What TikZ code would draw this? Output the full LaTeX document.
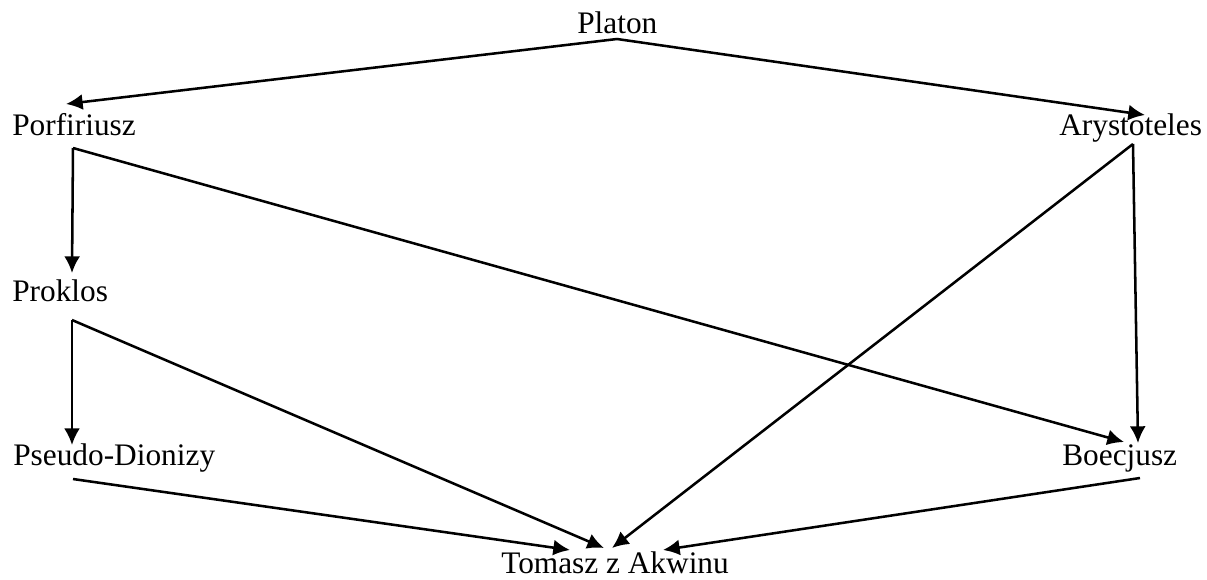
\documentclass[tikz,border=0pt]{standalone}
\usepackage{fontspec}
\setmainfont{Liberation Serif}
\usetikzlibrary{arrows.meta}
\begin{document}
\begin{tikzpicture}[x=0.75pt,y=-0.75pt,
  lbl/.style={anchor=base west,inner sep=0pt,font=\fontsize{23.5}{28}\selectfont},
  conn/.style={line width=1.9pt,-{Latex[length=12.5pt,width=12pt]}}]
\useasboundingbox (0,0) rectangle (1207,579);
\node[lbl] (platon) at (577,33) {Platon};
\node[lbl] (porf) at (12,135) {Porfiriusz};
\node[lbl] (ary) at (1059,135) {Arystoteles};
\node[lbl] (prok) at (12,301) {Proklos};
\node[lbl] (pseudo) at (13,465) {Pseudo-Dionizy};
\node[lbl] (boec) at (1062,465) {Boecjusz};
\node[lbl] (tom) at (501,573) {Tomasz z Akwinu};
% connector ends
\coordinate (plOut) at (617,39);
\coordinate (porfIn) at (66,104);
\coordinate (aryIn) at (1145,115);
\coordinate (porfOut) at (73,148);
\coordinate (aryOut) at (1133,144);
\coordinate (prokIn) at (72,273);
\coordinate (prokOut) at (72,320);
\coordinate (pseudoIn) at (72,445);
\coordinate (pseudoOut) at (73,479);
\coordinate (boecInA) at (1124,442);
\coordinate (boecInB) at (1138,443);
\coordinate (boecOut) at (1140,478);
\coordinate (tomA) at (570,550);
\coordinate (tomB) at (604,548);
\coordinate (tomC) at (612,548);
\coordinate (tomD) at (663,550);
\draw[conn] (plOut) -- (porfIn);
\draw[conn] (plOut) -- (aryIn);
\draw[conn] (porfOut) -- (prokIn);
\draw[conn] (porfOut) -- (boecInA);
\draw[conn] (prokOut) -- (pseudoIn);
\draw[conn] (prokOut) -- (tomB);
\draw[conn] (aryOut) -- (tomC);
\draw[conn] (aryOut) -- (boecInB);
\draw[conn] (pseudoOut) -- (tomA);
\draw[conn] (boecOut) -- (tomD);
\end{tikzpicture}
\end{document}
